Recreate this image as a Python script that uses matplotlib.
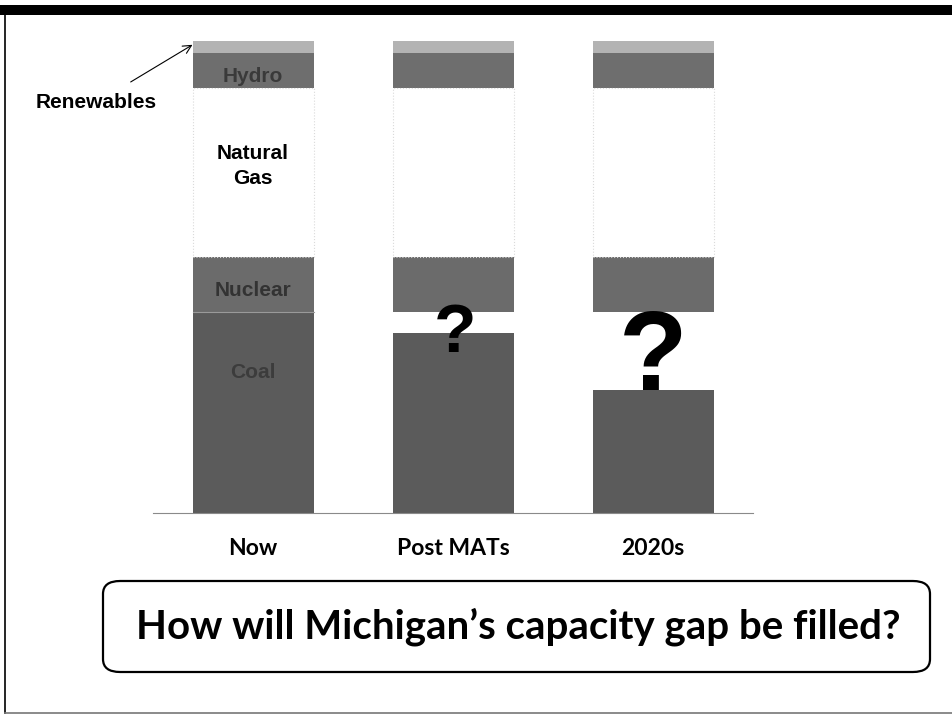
import matplotlib
matplotlib.use("Agg")
import matplotlib.pyplot as plt
from matplotlib.patches import FancyBboxPatch, Rectangle
from matplotlib.lines import Line2D
import numpy as np

# share of capacity (arbitrary units, total = 100)
periods = ["Now", "Post MATs", "2020s"]
coal = [42.6, 38.1, 26.1]
gap = [0.0, 4.5, 16.5]
nuclear = [11.7, 11.7, 11.7]
gas = [35.8, 35.8, 35.8]
hydro = [7.4, 7.4, 7.4]
renewables = [2.5, 2.5, 2.5]

W, H = 952, 717
fig = plt.figure(figsize=(W / 100, H / 100), dpi=100)

# axes placed in pixel terms: x 153..752, y 41..513 from top
ax = fig.add_axes([153 / W, 1 - 513 / H, 600 / W, 472 / H])
x = np.arange(len(periods))
bw = 0.605

layers = [
    (coal, "#5b5b5b"),
    (gap, "white"),
    (nuclear, "#6b6b6b"),
    (gas, "white"),
    (hydro, "#6e6e6e"),
    (renewables, "#b3b3b3"),
]
bottom = np.zeros(len(periods))
for vals, col in layers:
    vals = np.array(vals)
    ax.bar(x, vals, bw, bottom=bottom, color=col, linewidth=0)
    bottom += vals

# faint dotted edges around the natural gas block
gas_bottom = np.array(coal) + np.array(gap) + np.array(nuclear)
for xi, gb, gv in zip(x, gas_bottom, gas):
    ax.add_patch(Rectangle((xi - bw / 2, gb), bw, gv, fill=False,
                           edgecolor="#dadada", linewidth=0.8, linestyle=":"))

# thin line between nuclear and coal on the first bar
ax.plot([-bw / 2, bw / 2], [coal[0], coal[0]], color="#9a9a9a", lw=0.8)

ax.set_xlim(-0.5, 2.5)
ax.set_ylim(0, 100)
for s in ["top", "left", "right"]:
    ax.spines[s].set_visible(False)
ax.spines["bottom"].set_color("#8a8a8a")
ax.spines["bottom"].set_linewidth(0.8)
ax.set_yticks([])
ax.set_xticks(x)
ax.set_xticklabels(periods, fontsize=16.5, fontweight="bold", family="Lato")
ax.tick_params(axis="x", length=0, pad=18)

# segment labels on the first bar
seg = dict(ha="center", va="center", fontweight="bold", family="Liberation Sans",
           fontsize=15)
ax.text(0, 29.7, "Coal", color="#3c3c3c", **seg)
ax.text(0, 47.2, "Nuclear", color="#333333", **seg)
ax.text(0, 73.5, "Natural\nGas", color="black", linespacing=1.45, **seg)
ax.text(0, 92.4, "Hydro", color="#3a3a3a", **seg)

ax.annotate("Renewables", xy=(-bw / 2, 99.2), xytext=(-0.785, 86.9),
            ha="center", va="center", fontsize=15, fontweight="bold",
            family="Liberation Sans", annotation_clip=False,
            arrowprops=dict(arrowstyle="->", color="black", lw=0.8,
                            shrinkA=12, shrinkB=0))

# question marks in the gaps (baseline sits on the coal / just below the gap)
ax.text(1.01, 34.1, "?", ha="center", va="baseline", fontsize=50,
        fontweight="bold", family="Liberation Sans")
ax.text(2.0, coal[2], "?", ha="center", va="baseline",
        fontsize=81, fontweight="bold", family="Liberation Sans")

# slide frame
fig.add_artist(Rectangle((0, 1 - 15 / H), 1, 10 / H, transform=fig.transFigure,
                         color="black", linewidth=0))
fig.add_artist(Line2D([5 / W, 5 / W], [1 - 15 / H, 4 / H],
                      transform=fig.transFigure, color="black", lw=1.2))
fig.add_artist(Line2D([5 / W, 1], [4 / H, 4 / H],
                      transform=fig.transFigure, color="#777777", lw=1.2))

# question box
box = FancyBboxPatch((103 / W, 1 - 672 / H), 827 / W, 91 / H,
                     boxstyle="round,pad=0,rounding_size=0.018",
                     transform=fig.transFigure, facecolor="white",
                     edgecolor="black", linewidth=1.6)
fig.add_artist(box)
fig.text(518 / W, 1 - 627 / H, "How will Michigan\u2019s capacity gap be filled?",
         ha="center", va="center", fontsize=29, fontweight="bold", family="Lato")

fig.savefig("out.png", dpi=100)
